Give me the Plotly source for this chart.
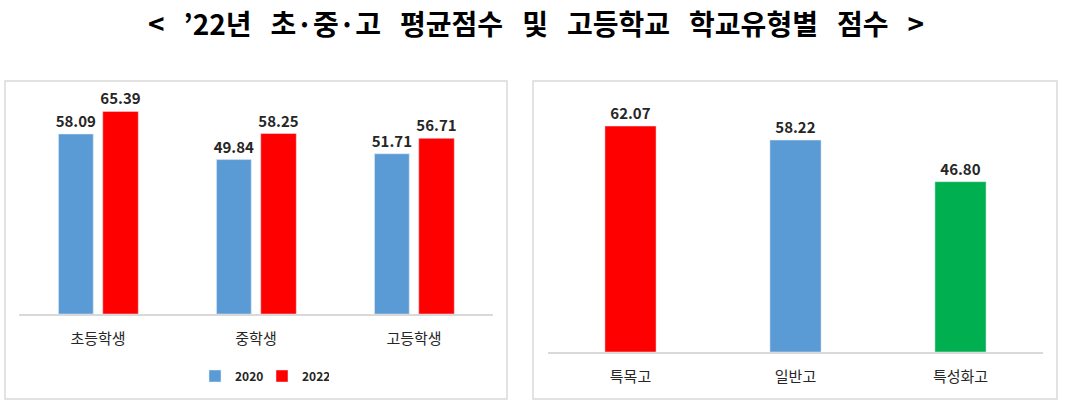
import plotly.graph_objects as go

# data
levels = ["초등학생", "중학생", "고등학생"]
score_2020 = [58.09, 49.84, 51.71]
score_2022 = [65.39, 58.25, 56.71]

school_types = ["특목고", "일반고", "특성화고"]
type_scores = [62.07, 58.22, 46.80]
type_colors = ["#ff0000", "#5b9bd5", "#00b050"]

W, H = 1068, 403
FONT = "Noto Sans CJK KR"


def px_x(p):
    return p / W


def px_y(p):
    return 1 - p / H


label_font = dict(size=15, color="#262626", family=FONT, weight="bold")

fig = go.Figure()

# left chart: 2020 vs 2022 by school level
fig.add_trace(go.Bar(
    x=levels, y=score_2020, name="2020",
    marker=dict(color="#5b9bd5"),
    width=0.22, offset=-0.25,
    text=[f"{v:.2f}" for v in score_2020], textposition="outside",
    constraintext="none", cliponaxis=False, textfont=label_font,
    xaxis="x", yaxis="y",
))
fig.add_trace(go.Bar(
    x=levels, y=score_2022, name="2022",
    marker=dict(color="#ff0000"),
    width=0.225, offset=0.03,
    text=[f"{v:.2f}" for v in score_2022], textposition="outside",
    constraintext="none", cliponaxis=False, textfont=label_font,
    xaxis="x", yaxis="y",
))

# right chart: high school types
fig.add_trace(go.Bar(
    x=school_types, y=type_scores, showlegend=False,
    marker=dict(color=type_colors),
    width=0.31, offset=-0.155,
    text=[f"{v:.2f}" for v in type_scores], textposition="outside",
    constraintext="none", cliponaxis=False, textfont=label_font,
    xaxis="x2", yaxis="y2",
))

axis_common = dict(
    showline=True, linecolor="#d9d9d9", linewidth=1.5,
    showgrid=False, zeroline=False, ticks="",
    tickfont=dict(size=15, color="#262626", family=FONT),
    ticklabelstandoff=10, fixedrange=True,
)

fig.update_layout(
    width=W, height=H, autosize=False,
    margin=dict(l=0, r=0, t=0, b=0),
    paper_bgcolor="white", plot_bgcolor="white",
    font=dict(family=FONT),
    barmode="overlay",
    xaxis=dict(domain=[px_x(19), px_x(493)], anchor="y", **axis_common),
    yaxis=dict(domain=[px_y(314), px_y(81)], range=[0, 75.2], visible=False, anchor="x"),
    xaxis2=dict(domain=[px_x(548), px_x(1043)], anchor="y2", **axis_common),
    yaxis2=dict(domain=[px_y(352), px_y(81)], range=[0, 74.45], visible=False, anchor="x2"),
    legend=dict(
        orientation="h", x=px_x(262), y=px_y(376),
        xanchor="center", yanchor="middle",
        font=dict(size=12, color="#262626", family=FONT, weight="bold"),
        itemwidth=30, entrywidth=22, entrywidthmode="pixels",
        traceorder="normal",
    ),
    showlegend=True,
)

# panel frames
for x0, x1 in [(5, 507), (533, 1057)]:
    fig.add_shape(
        type="rect", xref="paper", yref="paper",
        x0=px_x(x0), x1=px_x(x1), y0=px_y(399), y1=px_y(81),
        line=dict(color="#d9d9d9", width=1.5), fillcolor="rgba(0,0,0,0)",
        layer="below",
    )

gap = "\u00a0\u00a0\u00a0"
title = gap.join(["<", "’22년", "초·중·고", "평균점수", "및", "고등학교", "학교유형별", "점수", ">"])
fig.add_annotation(
    text=title,
    xref="paper", yref="paper", x=px_x(536), y=px_y(23),
    xanchor="center", yanchor="middle", showarrow=False,
    font=dict(size=28, color="black", family=FONT, weight="bold"),
)

# drop the default body margin so the figure sits at the window origin
fig.write_html(
    "out.html",
    config={"displayModeBar": False},
    post_script="document.body.style.margin='0';",
)
